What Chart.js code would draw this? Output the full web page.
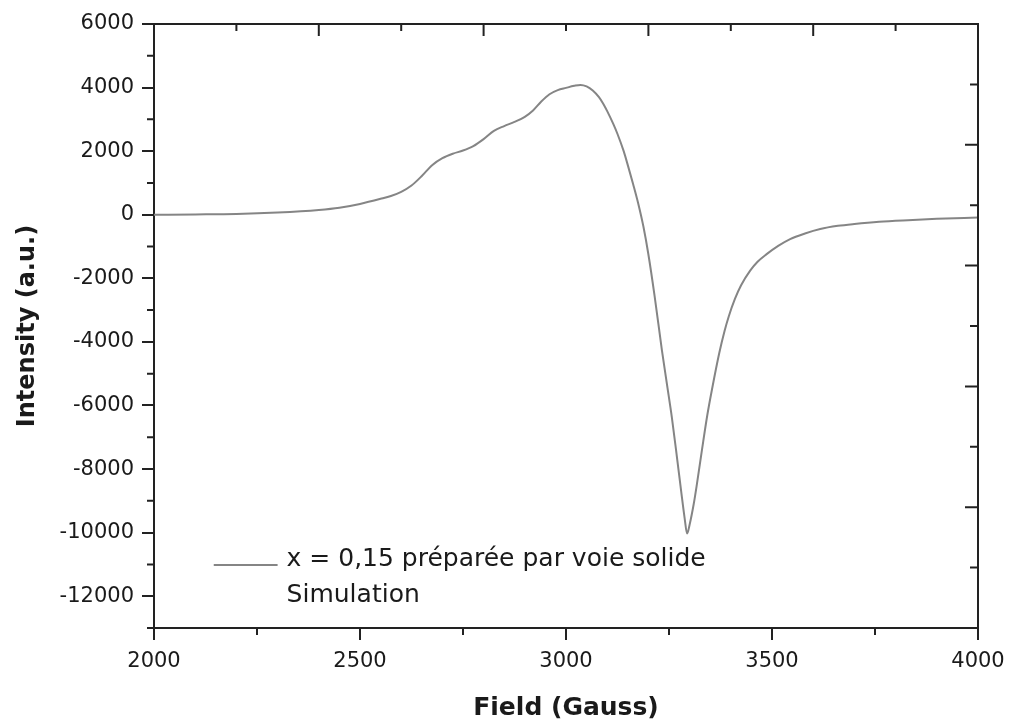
<!DOCTYPE html>
<html>
<head>
<meta charset="utf-8">
<script src="https://cdn.jsdelivr.net/npm/chart.js@4/dist/chart.umd.min.js"></script>
<style>
  html, body { margin: 0; padding: 0; background: #ffffff; }
  #wrap { width: 1009px; height: 724px; position: relative; }
</style>
</head>
<body>
<div id="wrap"><canvas id="c" width="1009" height="724"></canvas></div>
<script>
// ---- data ----
const field = [2000, 2100, 2200, 2300, 2400, 2450, 2500, 2550, 2575, 2600, 2625, 2650, 2675, 2700, 2725, 2750, 2775,
  2800, 2825, 2850, 2875, 2900, 2920, 2940, 2960, 2980, 3000, 3020, 3035, 3050, 3065, 3080, 3090, 3100, 3115, 3125,
  3140, 3150, 3163, 3175, 3188, 3200, 3215, 3233, 3245, 3257, 3270, 3280, 3288, 3294, 3300, 3310, 3318, 3330, 3343,
  3355, 3372, 3385, 3395, 3410, 3425, 3447, 3465, 3487, 3515, 3544, 3580, 3617, 3660, 3700, 3760, 3830, 3900, 4000];
const intensity = [0, 10, 25, 70, 150, 220, 340, 500, 590, 720, 920, 1220, 1560, 1780, 1920, 2020, 2160,
  2380, 2640, 2790, 2920, 3080, 3280, 3560, 3790, 3920, 3990, 4055, 4085, 4040, 3910, 3700, 3500, 3260, 2850, 2540,
  2000, 1560, 960, 370, -380, -1250, -2550, -4280, -5330, -6380, -7700, -8750, -9550, -10030, -9750, -9100, -8450, -7400, -6300,
  -5450, -4350, -3650, -3200, -2650, -2220, -1760, -1480, -1240, -980, -765, -590, -450, -350, -290, -220, -170, -130, -90];
const xTickValues = [2000, 2500, 3000, 3500, 4000];
const yTickValues = [-12000, -10000, -8000, -6000, -4000, -2000, 0, 2000, 4000, 6000];
const legendLabels = ['x = 0,15 préparée par voie solide', 'Simulation'];
const xTitle = 'Field (Gauss)';
const yTitle = 'Intensity (a.u.)';

const AXIS_COLOR = '#222222';
const TEXT_COLOR = '#1a1a1a';
const LINE_COLOR = '#858585';

Chart.defaults.font.family = "'DejaVu Sans', sans-serif";
Chart.defaults.color = TEXT_COLOR;

// Extra frame + minor / top / right ticks, positioned through the scales
const framePlugin = {
  id: 'frame',
  afterDraw(chart) {
    const {ctx, chartArea: a, scales: {x, y}} = chart;
    ctx.save();
    ctx.strokeStyle = AXIS_COLOR;
    ctx.lineWidth = 2;
    ctx.beginPath();
    ctx.moveTo(a.left, a.top); ctx.lineTo(a.right, a.top); ctx.lineTo(a.right, a.bottom);
    ctx.stroke();
    ctx.beginPath();
    // left minor ticks (outward)
    for (let v = y.min; v <= y.max; v += 1000) {
      if (Math.round(v) % 2000 !== 0) {
        const py = y.getPixelForValue(v);
        ctx.moveTo(a.left - 7, py); ctx.lineTo(a.left, py);
      }
    }
    // bottom minor ticks (outward)
    for (let v = x.min + 250; v < x.max; v += 500) {
      const px = x.getPixelForValue(v);
      ctx.moveTo(px, a.bottom); ctx.lineTo(px, a.bottom + 7);
    }
    // top ticks (inward), every 200, longer every 400
    for (let v = x.min + 200; v < x.max; v += 200) {
      const px = x.getPixelForValue(v);
      const len = (Math.round(v) % 400 === 0) ? 12 : 7;
      ctx.moveTo(px, a.top); ctx.lineTo(px, a.top + len);
    }
    // right ticks (inward), ten divisions, longer every second
    const step = (y.max - y.min) / 10;
    for (let k = 1; k < 10; k++) {
      const py = y.getPixelForValue(y.max - k * step);
      const len = (k % 2 === 0) ? 13 : 8;
      ctx.moveTo(a.right - len, py); ctx.lineTo(a.right, py);
    }
    ctx.stroke();
    ctx.restore();
  }
};

// Legend drawn inside the plot area
const innerLegend = {
  id: 'innerLegend',
  afterDraw(chart) {
    const {ctx, scales: {x, y}} = chart;
    const ds = chart.data.datasets[0];
    const x0 = x.getPixelForValue(2145);
    const x1 = x.getPixelForValue(2300);
    const yLine = y.getPixelForValue(-11020);
    ctx.save();
    ctx.strokeStyle = ds.borderColor;
    ctx.lineWidth = ds.borderWidth;
    ctx.beginPath();
    ctx.moveTo(x0, yLine); ctx.lineTo(x1, yLine);
    ctx.stroke();
    ctx.fillStyle = TEXT_COLOR;
    ctx.font = "25px 'DejaVu Sans'";
    ctx.textBaseline = 'alphabetic';
    ctx.textAlign = 'left';
    const tx = x1 + 9;
    ctx.fillText(legendLabels[0], tx, yLine + 1);
    ctx.fillText(legendLabels[1], tx, yLine + 37);
    ctx.restore();
  }
};

const points = field.map((f, i) => ({x: f, y: intensity[i]}));

new Chart(document.getElementById('c'), {
  type: 'line',
  data: {
    datasets: [{
      label: legendLabels[0],
      data: points,
      borderColor: LINE_COLOR,
      borderWidth: 2,
      pointRadius: 0,
      fill: false,
      cubicInterpolationMode: 'monotone'
    }]
  },
  options: {
    responsive: false,
    animation: false,
    events: [],
    layout: { padding: { left: 0, top: 24, right: 31, bottom: 0 } },
    plugins: { legend: { display: false }, tooltip: { enabled: false } },
    scales: {
      x: {
        type: 'linear',
        min: 2000, max: 4000,
        afterFit(s) { s.height = 96; s.paddingLeft = 0; s.paddingRight = 0; },
        afterBuildTicks(s) { s.ticks = xTickValues.map(v => ({value: v})); },
        border: { display: true, color: AXIS_COLOR, width: 2 },
        grid: { display: true, drawOnChartArea: false, drawTicks: true, tickLength: 12, color: AXIS_COLOR, lineWidth: 2 },
        ticks: { padding: 9, font: { size: 21 }, color: TEXT_COLOR, maxRotation: 0, callback: v => String(v) },
        title: { display: true, text: xTitle, font: { size: 25, weight: 'bold' }, color: TEXT_COLOR, padding: { top: 0, bottom: 1 } }
      },
      y: {
        type: 'linear',
        min: -13000, max: 6000,
        afterFit(s) { s.width = 154; s.paddingTop = 0; s.paddingBottom = 0; },
        afterBuildTicks(s) { s.ticks = yTickValues.map(v => ({value: v})); },
        border: { display: true, color: AXIS_COLOR, width: 2 },
        grid: { display: true, drawOnChartArea: false, drawTicks: true, tickLength: 12, color: AXIS_COLOR, lineWidth: 2 },
        ticks: { padding: 8, font: { size: 21 }, color: TEXT_COLOR, callback: v => String(v) },
        title: { display: true, text: yTitle, font: { size: 24, weight: 'bold' }, color: TEXT_COLOR, padding: { top: 13, bottom: 0 } }
      }
    }
  },
  plugins: [framePlugin, innerLegend]
});
</script>
</body>
</html>
